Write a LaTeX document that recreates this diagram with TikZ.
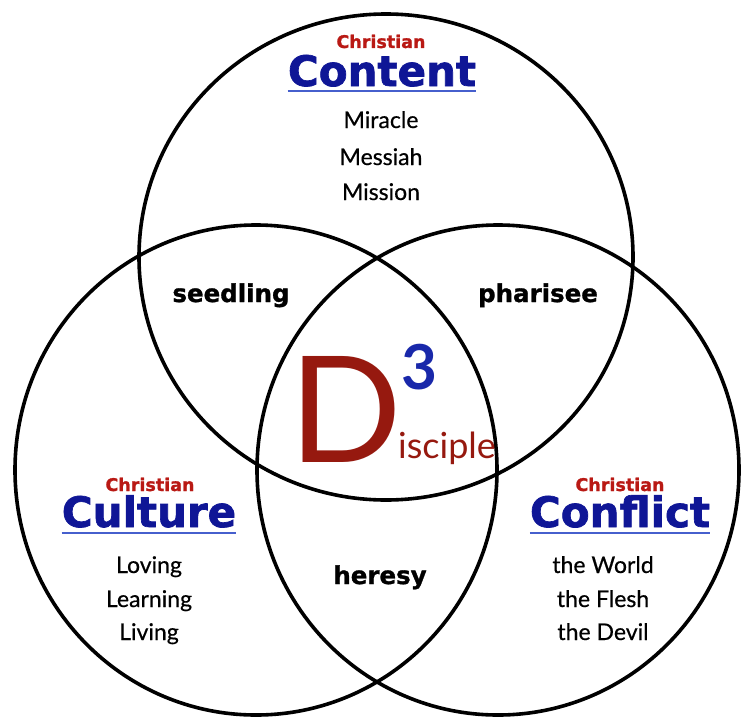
\documentclass[tikz,border=0pt]{standalone}
\usepackage{fontspec}
\setmainfont{Lato}
\newfontfamily\itemfont[FakeBold=0.5]{Lato}
\newfontfamily\headfont[BoldFeatures={FakeBold=1.6}]{DejaVu Sans}
\newfontfamily\zonefont[BoldFeatures={FakeBold=1.2}]{DejaVu Sans}
\definecolor{cred}{RGB}{185,25,20}
\definecolor{dred}{RGB}{150,25,15}
\definecolor{cblue}{RGB}{15,22,150}
\definecolor{ublue}{RGB}{70,95,205}
\definecolor{dblue}{RGB}{25,40,170}
\begin{document}
\begin{tikzpicture}[x=1pt,y=-1pt,
  ring/.style={draw=black, line width=3.6pt},
  small/.style={font=\zonefont\fontsize{17.5}{17.5}\selectfont\bfseries, text=cred, inner sep=0pt, anchor=base},
  head/.style={font=\headfont\fontsize{42}{42}\selectfont\bfseries, text=cblue, inner sep=0pt, anchor=base},
  item/.style={font=\itemfont\fontsize{23}{23}\selectfont, text=black, inner sep=0pt, anchor=base},
  zone/.style={font=\zonefont\fontsize{24.5}{24.5}\selectfont\bfseries, text=black, inner sep=0pt, anchor=base},
  uline/.style={draw=ublue, line width=2pt},
]
\useasboundingbox (0,0) rectangle (743,717);
\fill[white] (0,0) rectangle (743,717);
% circles
\draw[ring] (386,257) ellipse [x radius=247pt, y radius=243pt];
\draw[ring] (256,470) ellipse [x radius=241pt, y radius=245pt];
\draw[ring] (498,470) ellipse [x radius=241pt, y radius=245pt];
% top: Content
\node[small] (ct) at (381,48) {Christian};
\node[head] (content) at (382,86) {Content};
\draw[uline] ([yshift=-5pt]content.base west) -- ([yshift=-5pt]content.base east);
\node[item] (mir) at (381,128) {Miracle};
\node[item] (mes) at (381,165) {Messiah};
\node[item] (mis) at (381,200) {Mission};
% left: Culture
\node[small] (cl) at (150,491) {Christian};
\node[head] (culture) at (149,527) {Culture};
\draw[uline] ([yshift=-6pt]culture.base west) -- ([yshift=-6pt]culture.base east);
\node[item] (lov) at (149,573) {Loving};
\node[item] (lea) at (149,607) {Learning};
\node[item] (liv) at (149,640) {Living};
% right: Conflict
\node[small] (cr) at (620,491) {Christian};
\node[head] (conflict) at (620,527) {Conflict};
\draw[uline] ([yshift=-6pt]conflict.base west) -- ([yshift=-6pt]conflict.base east);
\node[item] (wor) at (603,573) {the World};
\node[item] (fle) at (603,607) {the Flesh};
\node[item] (dev) at (603,640) {the Devil};
% overlaps
\node[zone] (seed) at (231,302) {seedling};
\node[zone] (phar) at (538,302) {pharisee};
\node[zone] (her) at (380,584) {heresy};
% centre
\node[font=\fontsize{148}{148}\selectfont, text=dred, inner sep=0pt, anchor=base] (dd) at (346,462) {D};
\node[font=\fontsize{62}{62}\selectfont\bfseries, text=dblue, inner sep=0pt, anchor=base] (three) at (419,389) {3};
\node[font=\fontsize{36}{36}\selectfont, text=dred, inner sep=0pt, anchor=base west] (isc) at (398,458) {isciple};
\end{tikzpicture}
\end{document}
